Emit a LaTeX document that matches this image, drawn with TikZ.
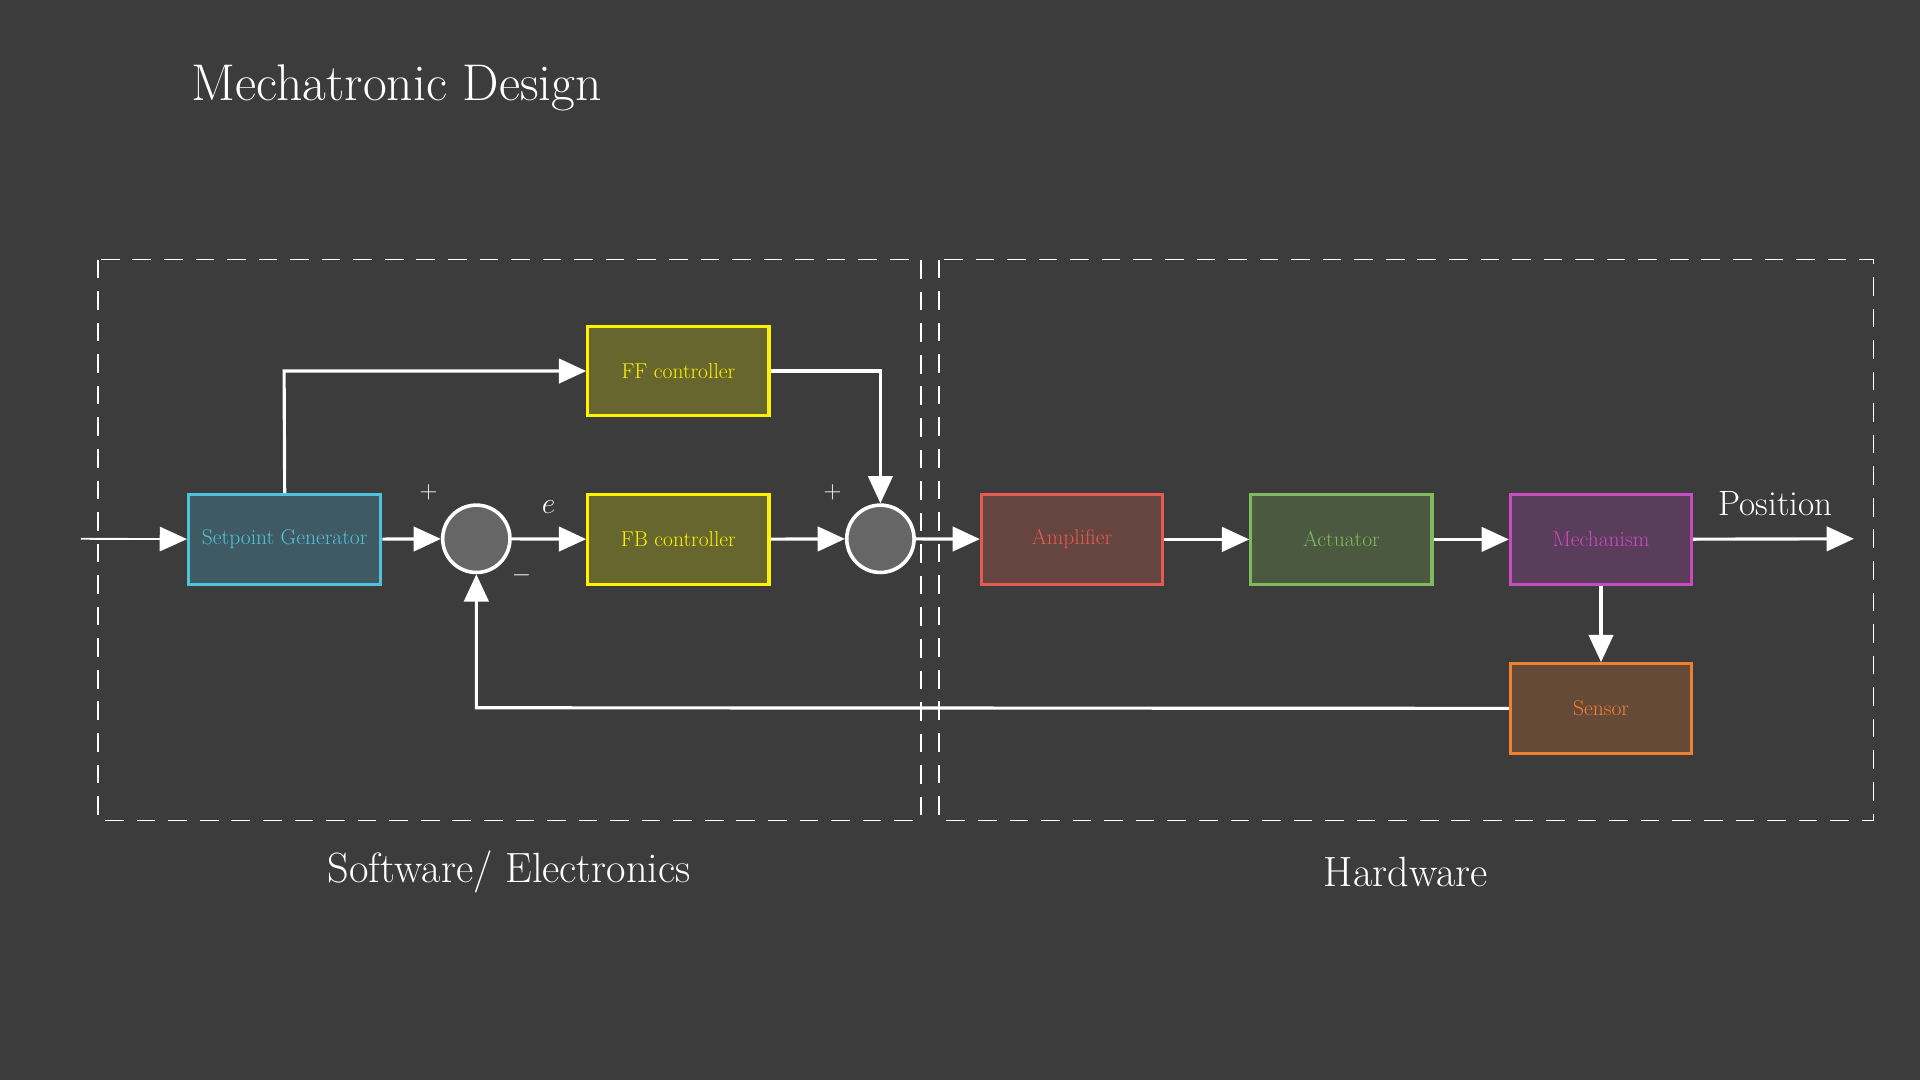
\documentclass[tikz,border=0pt]{standalone}
\usetikzlibrary{arrows.meta}
\begin{document}
\begin{tikzpicture}[x=0.03cm,y=-0.03cm,
  blk/.style={draw, line width=2.2pt, minimum width=148*0.03cm, minimum height=73*0.03cm, font=\fontsize{15}{17}\selectfont},
  sumc/.style={circle, draw=white, line width=2.5pt, minimum size=55*0.03cm, inner sep=0pt},
  arr/.style={draw=white, line width=2.2pt, -{Triangle[length=19pt,width=17pt]}},
  region/.style={draw=white, line width=1.2pt, dash pattern=on 13pt off 9pt},
  lbl/.style={text=white}]
\fill[fill={rgb,255:red,60;green,60;blue,60}] (0,0) rectangle (1568,882);
\useasboundingbox (0,0) rectangle (1568,882);
\node[lbl, font=\fontsize{36}{40}\selectfont] (title) at (324,72) {Mechatronic Design};
\draw[region] (80,212) rectangle (752,670);
\draw[region] (767,212) rectangle (1530,670);
\node[lbl, font=\fontsize{29.5}{33}\selectfont] (sw) at (416,712) {Software/ Electronics};
\node[lbl, font=\fontsize{29.5}{33}\selectfont] (hw) at (1148,712) {Hardware};

\node[blk, minimum width=157*0.03cm, draw={rgb,255:red,80;green,195;blue,220}, fill={rgb,255:red,63;green,90;blue,99}, text={rgb,255:red,80;green,195;blue,220}] (sg) at (232.5,440.5) {Setpoint Generator};
\node[sumc, fill={rgb,255:red,102;green,102;blue,102}] (s1) at (389,440) {};
\node[blk, draw=yellow, fill={rgb,255:red,102;green,102;blue,46}, text=yellow] (fb) at (554,440.5) {FB controller};
\node[blk, draw=yellow, fill={rgb,255:red,102;green,102;blue,46}, text=yellow] (ff) at (554,303) {FF controller};
\node[sumc, fill={rgb,255:red,102;green,102;blue,102}] (s2) at (719,440) {};
\node[blk, draw={rgb,255:red,230;green,90;blue,80}, fill={rgb,255:red,102;green,68;blue,63}, text={rgb,255:red,230;green,90;blue,80}] (amp) at (875.5,440.5) {Amplifier};
\node[blk, draw={rgb,255:red,127;green,186;blue,92}, fill={rgb,255:red,74;green,89;blue,64}, text={rgb,255:red,127;green,186;blue,92}] (act) at (1095.5,440.5) {Actuator};
\node[blk, draw={rgb,255:red,200;green,76;blue,192}, fill={rgb,255:red,90;green,61;blue,90}, text={rgb,255:red,200;green,76;blue,192}] (mech) at (1307.5,440.5) {Mechanism};
\node[blk, draw={rgb,255:red,240;green,128;blue,48}, fill={rgb,255:red,102;green,74;blue,56}, text={rgb,255:red,240;green,128;blue,48}] (sens) at (1307.5,578.5) {Sensor};

\coordinate (in) at (66,440);
\coordinate (out) at (1514,440);
\draw[arr, line width=1.3pt] (in) -- (sg);
\draw[arr] (sg) -- (s1);
\draw[arr] (s1) -- (fb);
\draw[arr] (fb) -- (s2);
\draw[arr] (s2) -- (amp);
\draw[arr] (amp) -- (act);
\draw[arr] (act) -- (mech);
\draw[arr] (mech) -- (out);
\draw[arr] (mech) -- (sens);
\draw[arr] (sens.west) -- (389,578) -- (s1.south);
\draw[arr] (sg.north) -- (232,303) -- (ff.west);
\draw[arr] (ff.east) -- (719,303) -- (s2.north);

\node[lbl, font=\fontsize{24.5}{28}\selectfont] (pos) at (1450,411) {Position};
\node[lbl, font=\LARGE] (p1) at (350,402) {$+$};
\node[lbl, font=\LARGE] (m1) at (426,470) {$-$};
\node[lbl, font=\huge] (e) at (448,414) {$e$};
\node[lbl, font=\LARGE] (p2) at (680,402) {$+$};
\end{tikzpicture}
\end{document}
